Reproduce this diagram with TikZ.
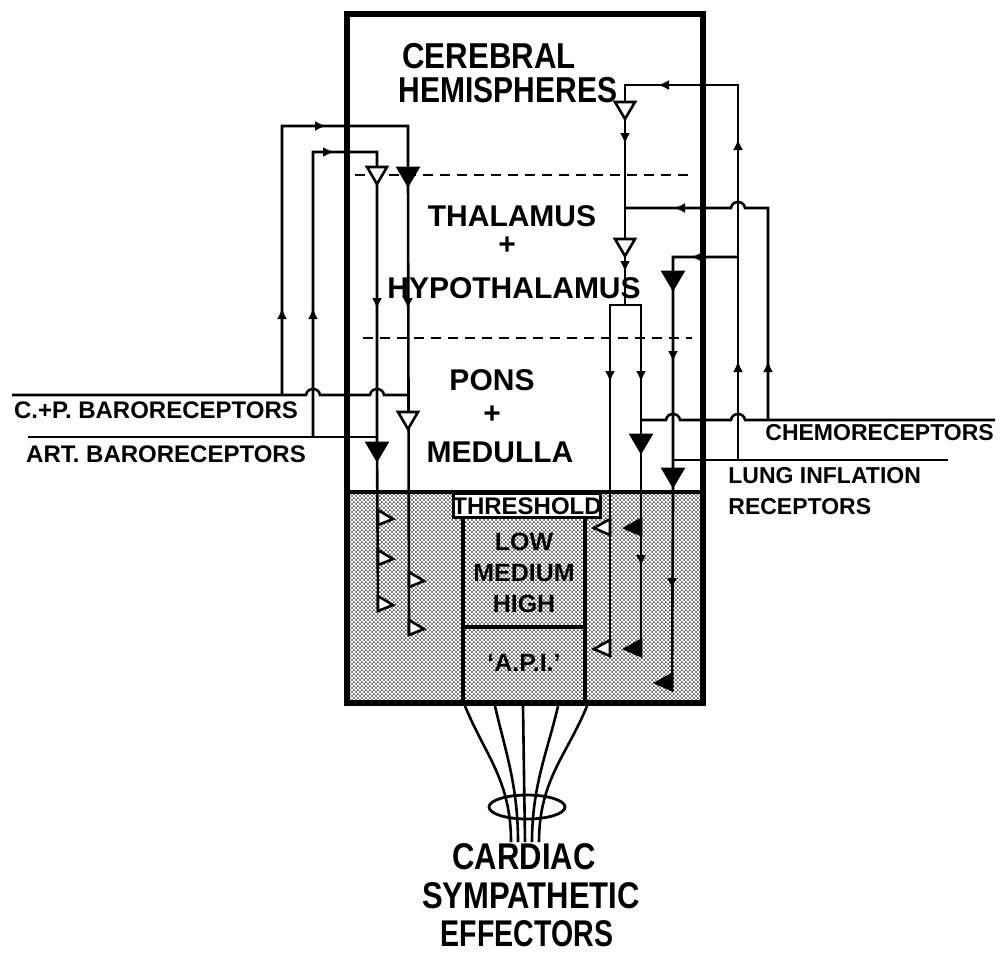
\documentclass[tikz,border=0pt]{standalone}
\usepackage{fontspec}
\setmainfont{Liberation Sans}
\usetikzlibrary{arrows.meta,patterns.meta}

\tikzdeclarepattern{
  name=finedots,
  type=uncolored,
  bounding box={(0pt,0pt) and (2.2pt,2.2pt)},
  tile size={(2.2pt,2.2pt)},
  code={\pgfpathcircle{\pgfpoint{0.55pt}{0.55pt}}{0.5pt}\pgfpathcircle{\pgfpoint{1.65pt}{1.65pt}}{0.5pt}\pgfusepath{fill}}
}

\newcommand\triDn[3]{\draw[ln,fill=#3,line join=miter] (#1-10,#2-8) -- (#1+10,#2-8) -- (#1,#2+9) -- cycle;}
\newcommand\triRt[3]{\draw[ln,fill=#3] (#1,#2-8) -- (#1+15,#2+1) -- (#1,#2+7) -- cycle;}
\newcommand\triLt[3]{\draw[ln,fill=#3] (#1,#2-8) -- (#1-16,#2+1) -- (#1,#2+8) -- cycle;}
\newcommand\arD[2]{\draw[tipstyle] (#1,#2-8) -- (#1,#2+4);}
\newcommand\arU[2]{\draw[tipstyle] (#1,#2+8) -- (#1,#2-4);}
\newcommand\arR[2]{\draw[tipstyle] (#1-8,#2) -- (#1+4,#2);}
\newcommand\arL[2]{\draw[tipstyle] (#1+8,#2) -- (#1-4,#2);}
\newcommand\tallt[2][1]{\scalebox{#1}[1.2]{#2}}

\begin{document}
\begin{tikzpicture}[x=0.5pt,y=-0.5pt,
  ln/.style={line width=1.3pt},
  tipstyle/.style={-{Latex[length=5.5pt,width=5pt]},line width=1.3pt},
  big/.style={font=\bfseries\fontsize{15}{17}\selectfont, inner sep=0pt},
  mid/.style={font=\bfseries\fontsize{12.5}{14}\selectfont, inner sep=0pt},
  side/.style={font=\bfseries\fontsize{12}{14}\selectfont, inner sep=0pt},
  rside/.style={font=\bfseries\fontsize{11.5}{14}\selectfont, inner sep=0pt, anchor=west},
  bot/.style={font=\bfseries\fontsize{15.5}{17}\selectfont, inner sep=0pt}]
\useasboundingbox (0,0) rectangle (1004,955);

% shaded lower region
\fill[pattern=finedots] (347,492) rectangle (703,703);

% dashed level lines
\draw[line width=1pt, dash pattern=on 5pt off 3.5pt] (355,175) -- (692,175);
\draw[line width=1pt, dash pattern=on 5pt off 3.5pt] (363,338) -- (692,338);

% inner threshold box
\draw[line width=2pt] (463,517) rectangle (585,703);
\draw[line width=2pt] (463,627) -- (585,627);
\draw[line width=1.5pt, fill=white] (453,493) rectangle (600,517);

% ---- left network ----
\draw[ln] (12,395) -- (306,395) .. controls (307,387) and (319,387) .. (320,395)
   -- (370,395) .. controls (371,387) and (383,387) .. (384,395) -- (408,395);
\draw[ln] (28,437) -- (377,437);
\draw[ln] (282,395) -- (282,126) -- (408,126) -- (408,175) -- (409,635);
\draw[ln] (313,437) -- (313,152) -- (377,152) -- (377,437) -- (378,610);

% ---- right network ----
\draw[ln] (995,420) -- (745,420) .. controls (744,412) and (732,412) .. (731,420)
   -- (680,420) .. controls (679,412) and (667,412) .. (666,420) -- (641,420);
\draw[ln] (768,420) -- (768,208) -- (745,208) .. controls (744,200) and (732,200) .. (731,208) -- (625,208);
\draw[ln] (948,460) -- (673,460);
\draw[ln] (738,460) -- (738,85) -- (625,85) -- (625,305);
\draw[ln] (738,257) -- (673,257) -- (673,500) -- (672,688);
\draw[ln] (610,655) -- (610,305) -- (641,305) -- (641,655);

% big synaptic triangles
\triDn{377}{175}{white}
\triDn{408}{176}{black}
\triDn{408}{420}{white}
\triDn{377}{451}{black}
\triDn{625}{110}{white}
\triDn{625}{247}{white}
\triDn{673}{280}{black}
\triDn{641}{443}{black}
\triDn{673}{477}{black}

% small synaptic triangles in the shaded region
\triRt{378}{518}{white}
\triRt{378}{558}{white}
\triRt{378}{604}{white}
\triRt{409}{580}{white}
\triRt{409}{628}{white}
\triLt{610}{527}{white}
\triLt{610}{648}{white}
\triLt{641}{527}{black}
\triLt{641}{648}{black}
\triLt{672}{682}{black}

% small direction arrows
\arD{377}{305} \arD{408}{305}
\arU{282}{312} \arU{313}{312}
\arR{322}{126} \arR{330}{152}
\arL{662}{85} \arL{678}{208} \arL{695}{257}
\arD{625}{140} \arD{625}{268}
\arU{738}{143} \arU{738}{365} \arU{768}{365}
\arD{610}{378} \arD{641}{378} \arD{673}{358}
\arD{641}{562} \arD{672}{585}

% outer frame and level line
\draw[line width=1.8pt] (347,492) -- (703,492);
\draw[line width=3pt] (347,14) rectangle (703,703);

% fan of effector nerves
\draw[line width=1.4pt] (527,807) ellipse (38 and 12);
\draw[line width=1.3pt] (465,706) .. controls (485,755) and (511,780) .. (511,842);
\draw[line width=1.3pt] (495,706) .. controls (505,750) and (518,785) .. (518,842);
\draw[line width=1.3pt] (523,706) -- (525,842);
\draw[line width=1.3pt] (558,706) .. controls (548,750) and (532,785) .. (532,842);
\draw[line width=1.3pt] (587,706) .. controls (567,755) and (539,780) .. (539,842);

% texts
\node[big] (cer) at (489,56) {\tallt[1.04]{CEREBRAL}};
\node[big] (hem) at (508,90) {\tallt{HEMISPHERES}};
\node[big] (tha) at (512,216) {THALAMUS};
\node[big] (pl1) at (507,246) {+};
\node[big] (hyp) at (514,288) {HYPOTHALAMUS};
\node[big] (pon) at (492,380) {PONS};
\node[big] (pl2) at (492,415) {+};
\node[big] (med) at (500,452) {MEDULLA};
\node[side] (thr) at (527,506) {THRESHOLD};
\node[mid] (low) at (524,542) {LOW};
\node[mid] (mdm) at (524,573) {MEDIUM};
\node[mid] (hig) at (524,604) {HIGH};
\node[mid] (api) at (524,663) {`A.P.I.'};
\node[side] (cpb) at (156,410) {C.+P. BARORECEPTORS};
\node[side] (art) at (166,454) {ART. BARORECEPTORS};
\node[rside] (che) at (765,433) {CHEMORECEPTORS};
\node[rside] (lun) at (728,476) {LUNG INFLATION};
\node[rside] (rec) at (728,507) {RECEPTORS};
\node[bot] (car) at (524,857) {\tallt{CARDIAC}};
\node[bot] (sym) at (531,896) {\tallt{SYMPATHETIC}};
\node[bot] (eff) at (527,934) {\tallt[0.92]{EFFECTORS}};
\end{tikzpicture}
\end{document}
